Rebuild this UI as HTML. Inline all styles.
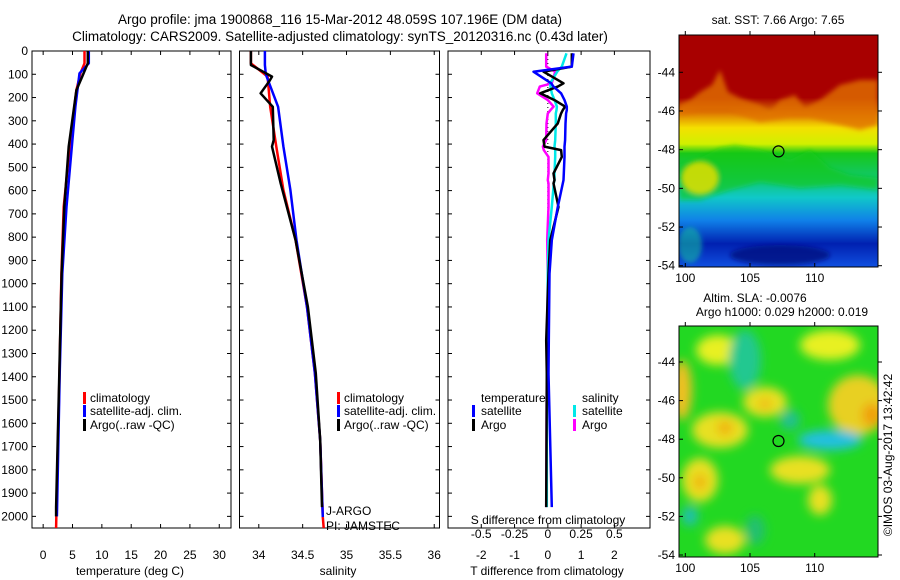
<!DOCTYPE html>
<html><head><meta charset="utf-8">
<style>
body{margin:0;background:#fff;}
svg{display:block;font-family:"Liberation Sans",sans-serif;}
</style></head>
<body>
<svg id="fig" width="900" height="580" viewBox="0 0 900 580">
<defs>
<filter id="blur4"><feGaussianBlur stdDeviation="5"/></filter>
<filter id="blur2"><feGaussianBlur stdDeviation="2.5"/></filter>
<clipPath id="clipTop"><rect x="679" y="35" width="199" height="232"/></clipPath>
<clipPath id="clipBot"><rect x="679" y="326" width="199" height="231"/></clipPath>
<linearGradient id="sstGrad" x1="0" y1="0" x2="0" y2="1">
<stop offset="0" stop-color="#a80000"/><stop offset="0.27" stop-color="#a80000"/>
<stop offset="0.34" stop-color="#e08000"/><stop offset="0.40" stop-color="#f4e000"/>
<stop offset="0.47" stop-color="#d0f000"/><stop offset="0.51" stop-color="#18c818"/>
<stop offset="0.62" stop-color="#10c870"/><stop offset="0.70" stop-color="#10c8c8"/>
<stop offset="0.80" stop-color="#1080e8"/><stop offset="0.90" stop-color="#0020b0"/>
<stop offset="1" stop-color="#1050e0"/>
</linearGradient>
</defs>
<text x="340" y="24" font-size="13.5" text-anchor="middle">Argo profile: jma 1900868_116 15-Mar-2012 48.059S 107.196E (DM data)</text>
<text x="340" y="41" font-size="13.5" text-anchor="middle">Climatology: CARS2009. Satellite-adjusted climatology: synTS_20120316.nc (0.43d later)</text>
<g id="panels"></g>
<!-- SST map -->
<g>
<text x="778" y="24" font-size="12" text-anchor="middle">sat. SST: 7.66 Argo: 7.65</text>
<g clip-path="url(#clipTop)">
<rect x="679" y="35" width="199" height="232" fill="url(#sstGrad)"/>
<g filter="url(#blur2)">
<path d="M679,105 L690,100 L700,92 L712,85 L720,70 L728,92 L740,98 L760,105 L770,112 L780,100 L795,95 L805,108 L820,100 L840,85 L860,80 L878,80 L878,125 L860,130 L840,125 L810,118 L790,118 L760,122 L730,112 L700,112 L679,115Z" fill="#e07000" opacity="0.8"/>
<path d="M679,165 L700,158 L720,148 L735,145 L760,150 L790,160 L810,150 L830,168 L850,175 L878,178 L878,190 L840,185 L800,188 L760,182 L730,190 L700,200 L679,200Z" fill="#18c818" opacity="0.6"/>
<ellipse cx="700" cy="178" rx="18" ry="16" fill="#f0e000" opacity="0.8"/>
<ellipse cx="780" cy="255" rx="50" ry="10" fill="#000c80" opacity="0.8"/>
<ellipse cx="690" cy="245" rx="12" ry="18" fill="#18b8a0" opacity="0.6"/>
</g>
</g>
<rect x="679" y="35" width="199" height="232" fill="none" stroke="#000" stroke-width="1"/>
<circle cx="778.5" cy="151.4" r="5.5" fill="none" stroke="#000" stroke-width="1.2"/>
<g id="mapTopAxes"></g>
</g>
<!-- SLA map -->
<g>
<text x="755" y="302" font-size="12" text-anchor="middle">Altim. SLA: -0.0076</text>
<text x="782" y="316" font-size="12" text-anchor="middle">Argo h1000: 0.029 h2000: 0.019</text>
<g clip-path="url(#clipBot)">
<rect x="679" y="326" width="199" height="231" fill="#22d822"/>
<g filter="url(#blur4)">
<ellipse cx="718" cy="350" rx="22" ry="15" fill="#e8f020"/>
<ellipse cx="682" cy="390" rx="10" ry="30" fill="#f0c020"/>
<ellipse cx="745" cy="360" rx="16" ry="30" fill="#20c890"/>
<ellipse cx="765" cy="402" rx="22" ry="15" fill="#e8e020"/>
<ellipse cx="765" cy="404" rx="6" ry="5" fill="#f0b010"/>
<ellipse cx="720" cy="430" rx="28" ry="18" fill="#e8e020"/>
<ellipse cx="725" cy="428" rx="8" ry="7" fill="#f0b010"/>
<ellipse cx="858" cy="405" rx="30" ry="30" fill="#e8d020"/>
<ellipse cx="872" cy="415" rx="10" ry="12" fill="#f0a010"/>
<ellipse cx="830" cy="440" rx="32" ry="10" fill="#20c0e0"/>
<ellipse cx="700" cy="480" rx="18" ry="22" fill="#e8e020"/>
<ellipse cx="700" cy="482" rx="6" ry="8" fill="#f0b010"/>
<ellipse cx="800" cy="470" rx="30" ry="14" fill="#e8e020"/>
<ellipse cx="820" cy="500" rx="12" ry="15" fill="#e8e020"/>
<ellipse cx="830" cy="345" rx="30" ry="15" fill="#e8f020"/>
<ellipse cx="725" cy="540" rx="20" ry="14" fill="#e8e020"/>
<ellipse cx="690" cy="516" rx="8" ry="10" fill="#20c0b0"/>
<ellipse cx="790" cy="420" rx="10" ry="10" fill="#20c090"/>
<ellipse cx="755" cy="530" rx="10" ry="15" fill="#20c070"/>
</g>
</g>
<rect x="679" y="326" width="199" height="231" fill="none" stroke="#000" stroke-width="1"/>
<circle cx="778.5" cy="441" r="5.5" fill="none" stroke="#000" stroke-width="1.2"/>
<g id="mapBotAxes"></g>
<text transform="translate(892,455) rotate(-90)" font-size="12" text-anchor="middle">©IMOS 03-Aug-2017 13:42:42</text>
</g>
</svg>
<script>
// ---- data ----
const tempDepthClim = [0,53,96,168,383,670,957,1387,1960,2050];
const tempClim      = [7.04,7.04,6.35,5.67,4.65,3.5,3.1,2.78,2.27,2.2];
const tempDepthSat  = [0,53,96,239,383,670,957,1387,1960,2000];
const tempSat       = [7.77,7.77,6.2,5.5,4.99,3.97,3.27,2.82,2.38,2.35];
const tempDepthArgo = [0,53,110,168,411,670,957,1387,1960,2000];
const tempArgo      = [7.6,7.6,6.65,5.67,4.35,3.6,3.15,2.75,2.2,2.2];

const salDepthClim = [0,53,110,240,411,598,813,1100,1385,1673,2003,2050];
const salClim      = [33.91,33.91,34.10,34.13,34.20,34.28,34.42,34.55,34.64,34.70,34.73,34.74];
const salDepthSat  = [0,60,100,240,411,598,813,1100,1385,1673,2003];
const salSat       = [34.07,34.07,34.08,34.22,34.28,34.36,34.43,34.55,34.64,34.70,34.73];
const salDepthArgo = [0,60,110,130,182,240,383,411,569,813,1100,1385,1673,1960];
const salArgo      = [33.91,33.91,34.15,34.12,34.02,34.16,34.17,34.15,34.25,34.42,34.56,34.65,34.70,34.72];

const diffDepth   = [10,67,89,139,153,182,211,239,254,268,311,383,411,426,455,526,555,569,670,813,957,1244,1387,1960];
const tDiffSat    = [0.77,0.72,-0.43,0.10,0.17,0.40,0.50,0.57,0.57,0.55,0.53,0.52,0.50,0.50,0.50,0.48,0.47,0.45,0.30,0.12,0.05,0.03,0.02,0.12];
const tDiffArgo   = [0.72,0.72,-0.13,0.47,0.30,-0.23,0.20,0.52,0.45,0.40,0.30,-0.13,-0.10,0.40,0.42,0.17,0.20,0.17,0.32,0.07,0.02,-0.05,-0.03,-0.05];
const sDiffSat    = [0.14,0.105,0.07,0.018,0.02,0.03,0.05,0.068,0.065,0.06,0.06,0.055,0.05,0.055,0.055,0.05,0.05,0.045,0.03,0.005,0.0,-0.005,-0.008,-0.008];
const sDiffArgo   = [-0.012,-0.012,0.055,0.03,-0.06,-0.08,0.00,0.043,0.02,0.00,-0.01,-0.012,-0.037,-0.03,0.005,0.005,0.0,0.005,0.005,-0.005,0.0,-0.005,-0.008,-0.012];

const depthTicks = [0,100,200,300,400,500,600,700,800,900,1000,1100,1200,1300,1400,1500,1600,1700,1800,1900,2000];
const tempTicks = [0,5,10,15,20,25,30];
const salTicks = [34,34.5,35,35.5,36];
const salTickLabels = ["34","34.5","35","35.5","36"];
const tDiffTicks = [-2,-1,0,1,2];
const sDiffTicks = [-0.5,-0.25,0,0.25,0.5];
const sDiffTickLabels = ["-0.5","-0.25","0","0.25","0.5"];
const lonTicks = [100,105,110];
const latTicks = [-44,-46,-48,-50,-52,-54];

// ---- helpers ----
const NS = "http://www.w3.org/2000/svg";
const root = document.getElementById('panels');
function el(tag, attrs, parent){const e=document.createElementNS(NS,tag);for(const k in attrs)e.setAttribute(k,attrs[k]);(parent||root).appendChild(e);return e;}
const yTop=51, yBot=528;
function yD(d){return yTop + d*(yBot-yTop)/2050;}

function panel(name, x0, x1, xmin, xmax){
  const g = el('g',{});
  
  
  const r = el('rect',{x:x0,y:yTop,width:x1-x0,height:yBot-yTop,fill:'none',stroke:'#000','stroke-width':1},g);
  
  
  const xs = v => x0 + (v-xmin)*(x1-x0)/(xmax-xmin);
  return {g, xs, x0, x1};
}
function line(p, depths, vals, color, name, xs){
  const f = xs || p.xs;
  const pts = depths.map((d,i)=>f(vals[i]).toFixed(1)+','+yD(d).toFixed(1)).join(' ');
  const l = el('polyline',{points:pts,fill:'none',stroke:color,'stroke-width':2.5,'stroke-linejoin':'round'},p.g);
  
  
}
function xTicks(p, ticks, labels, fs, ly, xs, top){
  const f = xs || p.xs;
  ticks.forEach((t,i)=>{
    const x=f(t);
    el('line',{x1:x,x2:x,y1:yBot,y2:yBot-4,stroke:'#000'},p.g);
    if(top!==false) el('line',{x1:x,x2:x,y1:yTop,y2:yTop+4,stroke:'#000'},p.g);
    const tx = el('text',{x:x,y:ly,'font-size':fs,'text-anchor':'middle'},p.g);
    tx.textContent = labels ? labels[i] : String(t);
    
    
  });
}
function yTicksMarks(p){
  depthTicks.forEach(d=>{
    const y=yD(d);
    el('line',{x1:p.x0,x2:p.x0+4,y1:y,y2:y,stroke:'#000'},p.g);
    el('line',{x1:p.x1,x2:p.x1-4,y1:y,y2:y,stroke:'#000'},p.g);
  });
}
function text(p, x, y, s, name, fs, anchor){
  const t = el('text',{x:x,y:y,'font-size':fs||12,'text-anchor':anchor||'start'},p.g);
  t.textContent = s;
  
  
  return t;
}
function legBar(p,x,y,color){el('rect',{x:x,y:y-10,width:3,height:12,fill:color},p.g);}

// ---- temperature panel ----
const pT = panel('temperature-panel', 32, 231, -1.9, 32.0);
yTicksMarks(pT);
depthTicks.forEach(d=>{
  const t = el('text',{x:28,y:yD(d)+4,'font-size':12,'text-anchor':'end'},pT.g);
  t.textContent = String(d);
  
  
});
xTicks(pT, tempTicks, null, 12, 559);
line(pT, tempDepthClim, tempClim, '#ff0000', 'temp-climatology-line');
line(pT, tempDepthSat, tempSat, '#0000ff', 'temp-satellite-line');
line(pT, tempDepthArgo, tempArgo, '#000000', 'temp-argo-line');
text(pT, 130, 575, 'temperature (deg C)', 'x-axis-title-temperature', 12, 'middle');
legBar(pT,83,402,'#ff0000'); text(pT,90,402,'climatology','legend-climatology');
legBar(pT,83,415,'#0000ff'); text(pT,90,415,'satellite-adj. clim.','legend-satellite');
legBar(pT,83,429,'#000000'); text(pT,90,429,'Argo(..raw -QC)','legend-argo');

// ---- salinity panel ----
const pS = panel('salinity-panel', 239.5, 439.5, 33.78, 36.06);
yTicksMarks(pS);
xTicks(pS, salTicks, salTickLabels, 12, 559);
line(pS, salDepthClim, salClim, '#ff0000', 'sal-climatology-line');
line(pS, salDepthSat, salSat, '#0000ff', 'sal-satellite-line');
line(pS, salDepthArgo, salArgo, '#000000', 'sal-argo-line');
text(pS, 338, 575, 'salinity', 'x-axis-title-salinity', 12, 'middle');
legBar(pS,337,402,'#ff0000'); text(pS,344,402,'climatology','legend-climatology-s');
legBar(pS,337,415,'#0000ff'); text(pS,344,415,'satellite-adj. clim.','legend-satellite-s');
legBar(pS,337,429,'#000000'); text(pS,344,429,'Argo(..raw -QC)','legend-argo-s');
text(pS, 326, 515, 'J-ARGO', 'float-program-label');
text(pS, 326, 530, 'PI: JAMSTEC', 'float-pi-label');

// ---- difference panel ----
const pD = panel('difference-panel', 448, 650, -3.0, 3.07);
const xsS = v => pD.xs(v*4);
yTicksMarks(pD);
xTicks(pD, tDiffTicks, null, 12, 559, null, true);
sDiffTicks.forEach((t,i)=>{
  const tx = el('text',{x:xsS(t),y:538,'font-size':12,'text-anchor':'middle'},pD.g);
  tx.textContent = sDiffTickLabels[i];
  
  
});
el('line',{x1:pD.xs(0),x2:pD.xs(0),y1:yD(0),y2:yD(820),stroke:'#000','stroke-dasharray':'1,3'},pD.g);
line(pD, diffDepth, sDiffArgo, '#ff00ff', 's-diff-argo-line', xsS);
line(pD, diffDepth, sDiffSat, '#00e8e8', 's-diff-satellite-line', xsS);
line(pD, diffDepth, tDiffArgo, '#000000', 't-diff-argo-line');
line(pD, diffDepth, tDiffSat, '#0000ff', 't-diff-satellite-line');
text(pD, 548, 524, 'S difference from climatology', 'x-axis-title-s-diff', 12, 'middle');
text(pD, 547, 575, 'T difference from climatology', 'x-axis-title-t-diff', 12, 'middle');
text(pD, 481, 402, 'temperature', 'legend-temperature-header');
legBar(pD,472,415,'#0000ff'); text(pD,481,415,'satellite','legend-t-satellite');
legBar(pD,472,429,'#000000'); text(pD,481,429,'Argo','legend-t-argo');
text(pD, 582, 402, 'salinity', 'legend-salinity-header');
legBar(pD,573,415,'#00e8e8'); text(pD,582,415,'satellite','legend-s-satellite');
legBar(pD,573,429,'#ff00ff'); text(pD,582,429,'Argo','legend-s-argo');

// ---- map axes ----
function mapAxes(id, y0, y1, lat44, lat54){
  const g = document.getElementById(id);
  const xl = v => 685.3 + (v-100)*12.94;
  const yl = v => lat44 + (-44 - v)*(lat54-lat44)/10;
  lonTicks.forEach(v=>{
    const x=xl(v);
    el('line',{x1:x,x2:x,y1:y1,y2:y1-4,stroke:'#000'},g);
    el('line',{x1:x,x2:x,y1:y0,y2:y0-4,stroke:'#000'},g);
    const t=el('text',{x:x,y:y1+15,'font-size':12,'text-anchor':'middle'},g);
    t.textContent=String(v);
    
    
  });
  latTicks.forEach(v=>{
    const y=yl(v);
    el('line',{x1:679,x2:683,y1:y,y2:y,stroke:'#000'},g);
    el('line',{x1:878,x2:882,y1:y,y2:y,stroke:'#000'},g);
    const t=el('text',{x:675,y:y+4,'font-size':12,'text-anchor':'end'},g);
    t.textContent=String(v);
    
    
  });
}
mapAxes('mapTopAxes', 35, 267, 72.3, 265.7);
mapAxes('mapBotAxes', 326, 557, 362, 555);
</script>
</body></html>
